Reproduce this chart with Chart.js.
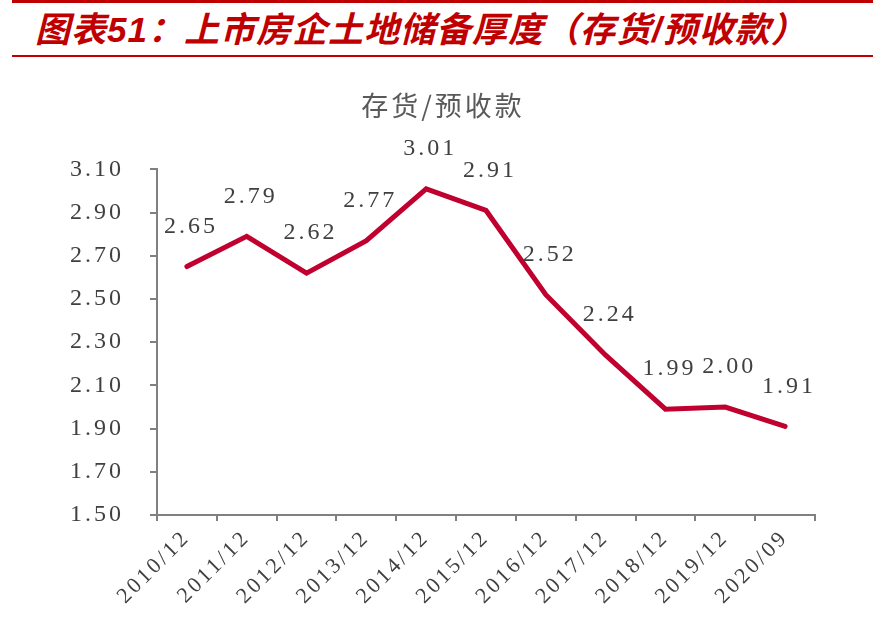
<!DOCTYPE html>
<html>
<head>
<meta charset="utf-8">
<script src="https://cdn.jsdelivr.net/npm/chart.js@4"></script>
<style>
  html, body { margin: 0; padding: 0; background: #fff; }
  #page { position: relative; width: 886px; height: 642px; overflow: hidden; }
  #topBar { position: absolute; left: 12px; top: 0; width: 861px; height: 3px; background: #C00000; }
  #header {
    position: absolute; left: 35px; top: 8px;
    font-family: "Liberation Sans", "Noto Sans CJK SC", sans-serif;
    font-size: 35px; font-weight: bold; font-style: italic;
    color: #C00000; letter-spacing: 1px; white-space: nowrap; line-height: 44px;
  }
  #underline { position: absolute; left: 12px; top: 55px; width: 861px; height: 2px; background: #C00000; }
  #chartBox { position: absolute; left: 0; top: 0; width: 886px; height: 642px; }
</style>
</head>
<body>
<div id="page">
  <div id="topBar"></div>
  <div id="header">图表51：上市房企土地储备厚度（存货/预收款）</div>
  <div id="underline"></div>
  <div id="chartBox"><canvas id="myChart"></canvas></div>
</div>
<script>
// 資料
const categories = ['2010/12', '2011/12', '2012/12', '2013/12', '2014/12', '2015/12',
  '2016/12', '2017/12', '2018/12', '2019/12', '2020/09'];
const ratioValues = [2.65, 2.79, 2.62, 2.77, 3.01, 2.91, 2.52, 2.24, 1.99, 2.00, 1.91];
const yMin = 1.5;
const yMax = 3.1;
const yStep = 0.2;

const numFont = '"Liberation Serif", "Times New Roman", serif';

// 數字字距 (原圖的數字比較寬)
const spacingPlugin = {
  id: 'spacing',
  beforeUpdate(chart) { chart.ctx.letterSpacing = '3px'; },
  beforeDraw(chart) { chart.ctx.letterSpacing = '3px'; }
};

// 數據標籤
const valueLabels = {
  id: 'valueLabels',
  afterDatasetsDraw(chart) {
    const ctx = chart.ctx;
    const meta = chart.getDatasetMeta(0);
    ctx.save();
    ctx.font = '24px ' + numFont;
    ctx.fillStyle = '#404040';
    ctx.textAlign = 'center';
    ctx.textBaseline = 'middle';
    meta.data.forEach((pt, i) => {
      ctx.fillText(ratioValues[i].toFixed(2), pt.x + 4, pt.y - 40);
    });
    ctx.restore();
  }
};

const ctx = document.getElementById('myChart').getContext('2d');
const myChart = new Chart(ctx, {
  type: 'line',
  data: {
    labels: categories,
    datasets: [{
      label: '存货/预收款',
      data: ratioValues,
      borderColor: '#C0002F',
      borderWidth: 5,
      pointRadius: 0,
      tension: 0,
      borderJoinStyle: 'miter',
      borderCapStyle: 'round'
    }]
  },
  options: {
    responsive: true,
    maintainAspectRatio: false,
    animation: false,
    layout: { padding: { top: 80, left: 0, right: 0, bottom: 0 } },
    plugins: {
      legend: { display: false },
      tooltip: { enabled: false },
      title: {
        display: true,
        text: '存货/预收款',
        color: '#595959',
        font: { family: '"Noto Sans CJK SC", sans-serif', size: 27, weight: 'normal', lineHeight: 1.2 },
        padding: { top: 10, bottom: 47 }
      }
    },
    scales: {
      x: {
        offset: true,
        grid: { offset: true, drawOnChartArea: false, drawTicks: true, tickLength: 6, color: '#808080', lineWidth: 2 },
        border: { color: '#808080', width: 2 },
        ticks: {
          color: '#404040',
          font: { family: numFont, size: 22 },
          minRotation: 45,
          maxRotation: 45,
          padding: 4
        },
        afterFit(scale) { scale.height = 127; }
      },
      y: {
        min: yMin,
        max: yMax,
        grid: { drawOnChartArea: false, drawTicks: true, tickLength: 7, color: '#808080', lineWidth: 2 },
        border: { color: '#808080', width: 2 },
        ticks: {
          stepSize: yStep,
          color: '#404040',
          font: { family: numFont, size: 24 },
          padding: 26,
          callback: v => Number(v).toFixed(2)
        },
        afterFit(scale) { scale.width = 157; }
      },
      yRight: {
        position: 'right',
        display: true,
        grid: { display: false },
        border: { display: false },
        ticks: { display: false },
        afterFit(scale) { scale.width = 71; }
      }
    }
  },
  plugins: [spacingPlugin, valueLabels]
});
</script>
</body>
</html>
